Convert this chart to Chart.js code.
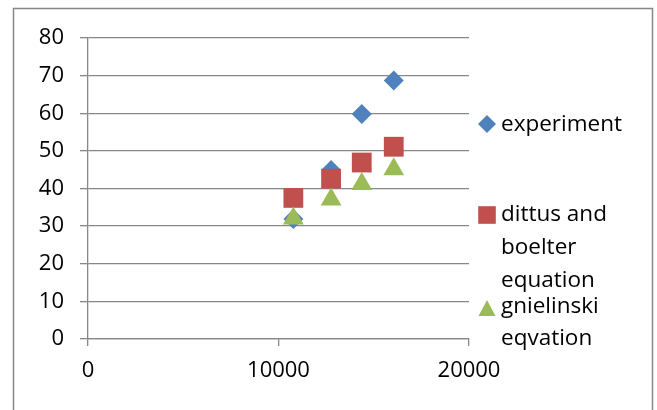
<!DOCTYPE html>
<html>
<head>
<meta charset="utf-8">
<script src="https://cdn.jsdelivr.net/npm/chart.js@4.4.1/dist/chart.umd.min.js"></script>
<style>
  body { margin: 0; background: #fff; }
  #wrap { width: 657px; height: 410px; }
</style>
</head>
<body>
<div id="wrap"><canvas id="heatChart" width="657" height="410"></canvas></div>
<script>
// values
const reynolds = [10780, 12760, 14370, 16050];
const experiment = [31.9, 44.9, 59.8, 68.7];
const dittusBoelter = [37.5, 42.6, 46.9, 51.1];
const gnielinski = [32.0, 37.1, 41.2, 45.1];
const seriesNames = [['experiment'], ['dittus and', 'boelter', 'equation'], ['gnielinski', 'eqvation']];
const xTicks = [0, 10000, 20000];
const yTicks = [0, 10, 20, 30, 40, 50, 60, 70, 80];

const BLUE = '#4F81BD';
const RED = '#C0504D';
const GREEN = '#9BBB59';
const GRID = '#878787';
const FONT = "'Open Sans', sans-serif";

function toPoints(ys) {
    return ys.map((y, i) => ({ x: reynolds[i], y: y }));
}

function marker(ctx, style, x, y, r) {
    ctx.beginPath();
    if (style === 'rectRot') {
        ctx.moveTo(x, y - r); ctx.lineTo(x + r, y); ctx.lineTo(x, y + r); ctx.lineTo(x - r, y);
    } else if (style === 'rect') {
        ctx.rect(x - r, y - r, 2 * r, 2 * r);
    } else {
        const h = r * 1.9;
        ctx.moveTo(x, y - h / 2); ctx.lineTo(x + r, y + h / 2); ctx.lineTo(x - r, y + h / 2);
    }
    ctx.closePath();
    ctx.fill();
}

// frame and hand-placed legend like the Excel original
const excelLook = {
    id: 'excelLook',
    beforeDraw(chart) {
        const ctx = chart.ctx;
        ctx.save();
        ctx.strokeStyle = GRID;
        ctx.lineWidth = 1.5;
        ctx.beginPath();
        ctx.moveTo(13.5, 420); ctx.lineTo(13.5, 8.5); ctx.lineTo(652.5, 8.5); ctx.lineTo(652.5, 420);
        ctx.stroke();
        ctx.restore();
    },
    afterDraw(chart) {
        const ctx = chart.ctx;
        const rows = [[125], [215, 248, 280.5], [307, 338.5]];
        const markerY = [124, 215, 308];
        const sizes = [9, 8.8, 8.5];
        ctx.save();
        ctx.font = '22.5px ' + FONT;
        ctx.textBaseline = 'middle';
        ctx.fillStyle = '#000';
        chart.data.datasets.forEach((ds, i) => {
            ctx.fillStyle = ds.backgroundColor;
            marker(ctx, ds.pointStyle, 487, markerY[i], sizes[i]);
            ctx.fillStyle = '#000';
            seriesNames[i].forEach((line, j) => ctx.fillText(line, 501, rows[i][j]));
        });
        ctx.restore();
    }
};

const ctx = document.getElementById('heatChart').getContext('2d');
const heatChart = new Chart(ctx, {
    type: 'scatter',
    data: {
        datasets: [
            { label: 'experiment', data: toPoints(experiment), pointStyle: 'rectRot', pointRadius: 10, pointHoverRadius: 10, backgroundColor: BLUE, borderColor: BLUE, borderWidth: 0, order: 3 },
            { label: 'dittus and boelter equation', data: toPoints(dittusBoelter), pointStyle: 'rect', pointRadius: 14, pointHoverRadius: 14, backgroundColor: RED, borderColor: RED, borderWidth: 0, order: 2 },
            { label: 'gnielinski eqvation', data: toPoints(gnielinski), pointStyle: 'triangle', pointRadius: 12, pointHoverRadius: 12, backgroundColor: GREEN, borderColor: GREEN, borderWidth: 0, order: 1 }
        ]
    },
    options: {
        responsive: false,
        animation: false,
        layout: { padding: { left: 0, top: 38, right: 188, bottom: 0 } },
        plugins: { legend: { display: false }, tooltip: { enabled: false } },
        scales: {
            x: {
                type: 'linear',
                min: xTicks[0],
                max: xTicks[xTicks.length - 1],
                afterFit: s => { s.height = 71; },
                afterBuildTicks: s => { s.ticks = xTicks.map(v => ({ value: v })); },
                grid: { drawOnChartArea: false, color: GRID, tickLength: 7, lineWidth: 1.3 },
                border: { color: GRID, width: 1.3 },
                ticks: { color: '#000', font: { family: FONT, size: 22 }, padding: 12, maxRotation: 0, callback: v => String(v) }
            },
            y: {
                min: yTicks[0],
                max: yTicks[yTicks.length - 1],
                afterFit: s => { s.width = 88; },
                afterBuildTicks: s => { s.ticks = yTicks.map(v => ({ value: v })); },
                grid: { color: GRID, tickLength: 8, lineWidth: 1.3 },
                border: { color: GRID, width: 1.3 },
                ticks: { color: '#000', font: { family: FONT, size: 22 }, padding: 16, callback: v => String(v) }
            }
        }
    },
    plugins: [excelLook]
});
</script>
</body>
</html>
